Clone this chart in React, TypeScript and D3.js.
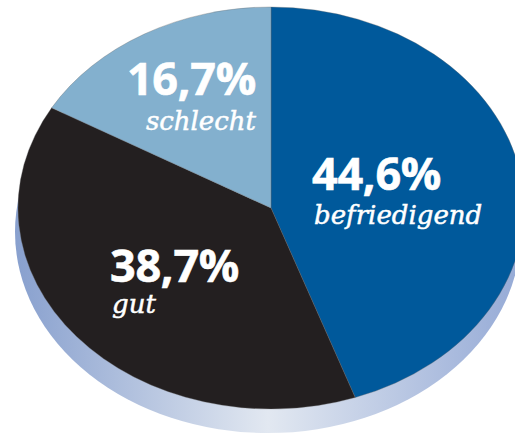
import React from "react";
import * as d3 from "d3";

const categories = ["befriedigend", "gut", "schlecht"];
const values = [44.6, 38.7, 16.7];
const valueLabels = ["44,6%", "38,7%", "16,7%"];
const colors = ["#00599b", "#231f20", "#83b0ce"];

export default function App() {
  const W = 515, H = 435;
  const cx = 271, cy = 208, rx = 253, ry = 201;
  const pie = d3.pie<number>().sort(null).value((d) => d);
  const arcs = pie(values);
  const arc = d3.arc<d3.PieArcDatum<number>>().innerRadius(0).outerRadius(ry);
  const sx = rx / ry;

  const labelPos: Record<string, { x: number; y: number; anchor: "start" | "end" }> = {
    befriedigend: { x: 312, y: 190, anchor: "start" },
    gut: { x: 110, y: 282, anchor: "start" },
    schlecht: { x: 256, y: 95, anchor: "end" },
  };

  return (
    <svg width={W} height={H} style={{ position: "absolute", left: 0, top: 0, display: "block" }}>
      <defs>
        <linearGradient id="side" x1="0" x2="1" y1="0" y2="0">
          <stop offset="0" stopColor="#88a0ce" />
          <stop offset="0.5" stopColor="#e2e8f1" />
          <stop offset="1" stopColor="#95aad6" />
        </linearGradient>
      </defs>
      <rect width={W} height={H} fill="#ffffff" />
      <ellipse cx={cx - 3} cy={cy + 24} rx={rx} ry={ry} fill="url(#side)" />
      <g transform={`translate(${cx},${cy}) scale(${sx},1)`}>
        {arcs.map((a, i) => (
          <path key={categories[i]} d={arc(a) || ""} fill={colors[i]} stroke="#6b6b6b" strokeWidth={0.3} />
        ))}
      </g>
      {categories.map((c, i) => {
        const p = labelPos[c];
        return (
          <g key={c} fill="#ffffff">
            <text x={p.x} y={p.y} textAnchor={p.anchor} fontFamily="'Open Sans', sans-serif" fontWeight={700} fontSize={45} letterSpacing={-0.3} stroke="#ffffff" strokeWidth={0.6}>
              {valueLabels[i]}
            </text>
            <text x={p.x + (p.anchor === "start" ? 2 : 0)} y={p.y + (c === "gut" ? 31 : c === "schlecht" ? 35 : 34)} textAnchor={p.anchor} fontFamily="'DejaVu Serif', serif" fontStyle="italic" fontSize={26} stroke="#ffffff" strokeWidth={0.5}>
              {c}
            </text>
          </g>
        );
      })}
    </svg>
  );
}
